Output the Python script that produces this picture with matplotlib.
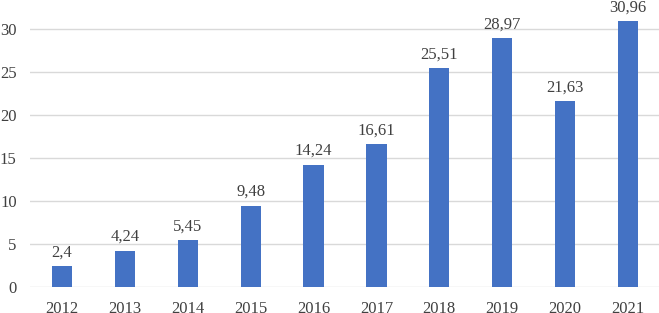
import matplotlib.pyplot as plt
import numpy as np

years = ["2012", "2013", "2014", "2015", "2016", "2017", "2018", "2019", "2020", "2021"]
values = [2.4, 4.24, 5.45, 9.48, 14.24, 16.61, 25.51, 28.97, 21.63, 30.96]
labels = ["2,4", "4,24", "5,45", "9,48", "14,24", "16,61", "25,51", "28,97", "21,63", "30,96"]

plt.rcParams['font.family'] = ['Liberation Serif', 'DejaVu Serif']

fig = plt.figure(figsize=(6.59, 3.13), dpi=100)
ax = fig.add_axes([30.5 / 659, 26 / 313, 629 / 659, 287 / 313])

x = np.arange(len(years))
ax.bar(x, values, 0.32, color="#4472C4", zorder=3)

for xi, v, lab in zip(x, values, labels):
    ax.annotate(lab, xy=(xi, v), xytext=(0, 4), textcoords="offset points",
                ha="center", va="bottom", fontsize=12, color="#404040",
                annotation_clip=False)

ax.set_xlim(-0.5, len(years) - 0.5)
ax.set_ylim(0, 33.4)
ax.set_yticks(range(0, 31, 5))
ax.set_xticks(x)
ax.set_xticklabels(years)
ax.tick_params(axis="both", length=0, labelsize=12, labelcolor="#404040")
ax.tick_params(axis="y", pad=10)
ax.tick_params(axis="x", pad=10)

for yv in range(0, 31, 5):
    ax.axhline(yv, color="#d9d9d9", linewidth=1, zorder=1)

for s in ax.spines.values():
    s.set_visible(False)

plt.savefig("out.png", dpi=100)
